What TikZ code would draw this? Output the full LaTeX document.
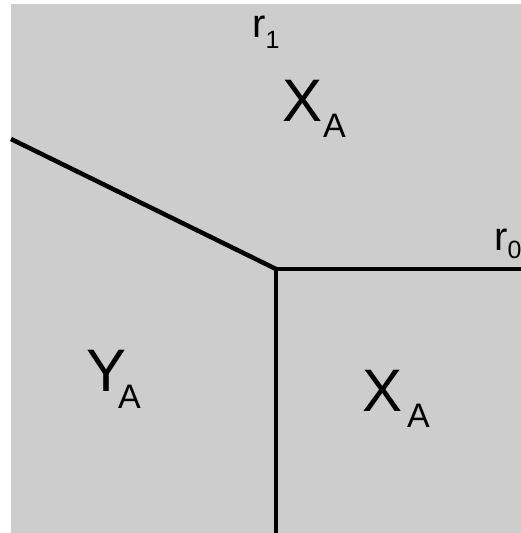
\documentclass[tikz,border=0pt]{standalone}
\usepackage{fontspec}
\setmainfont{Liberation Sans}
\definecolor{field}{RGB}{205,205,205}
\newcommand{\subtxt}[4]{#1\kern#3pt\raisebox{-#4pt}{\fontsize{34}{34}\selectfont #2}}
\newcommand{\raytxt}[4]{#1\kern#3pt\raisebox{-#4pt}{\fontsize{25}{25}\selectfont #2}}
\tikzset{ray/.style={draw=black,line width=4.5pt},
 region/.style={inner sep=0pt,anchor=base west,font=\fontsize{60}{60}\selectfont},
 raylabel/.style={inner sep=0pt,anchor=base west,font=\fontsize{40}{40}\selectfont},
 every picture/.style={line join=miter,line cap=butt}}
\begin{document}
\begin{tikzpicture}[x=1pt,y=-1pt]
\useasboundingbox (0,0) rectangle (521,533);
\fill[field] (11,4) rectangle (521,533);
\coordinate (junc) at (276,269);
\coordinate (wend) at (11,139);
\coordinate (eend) at (521,269);
\coordinate (send) at (276,533);
\draw[ray] (wend) -- (junc);
\draw[ray] (junc) -- (eend);
\draw[ray] (junc) -- (send);
\node[region] (xtop) at (282,121) {\subtxt{X}{A}{1}{16}};
\node[region] (yleft) at (86,391) {\subtxt{Y}{A}{-8}{17}};
\node[region] (xright) at (362,411) {\subtxt{X}{A}{5}{16}};
\node[raylabel] (rone) at (252,37) {\raytxt{r}{1}{0}{11}};
\node[raylabel] (rzero) at (494,250) {\raytxt{r}{0}{0}{8}};
\end{tikzpicture}
\end{document}
